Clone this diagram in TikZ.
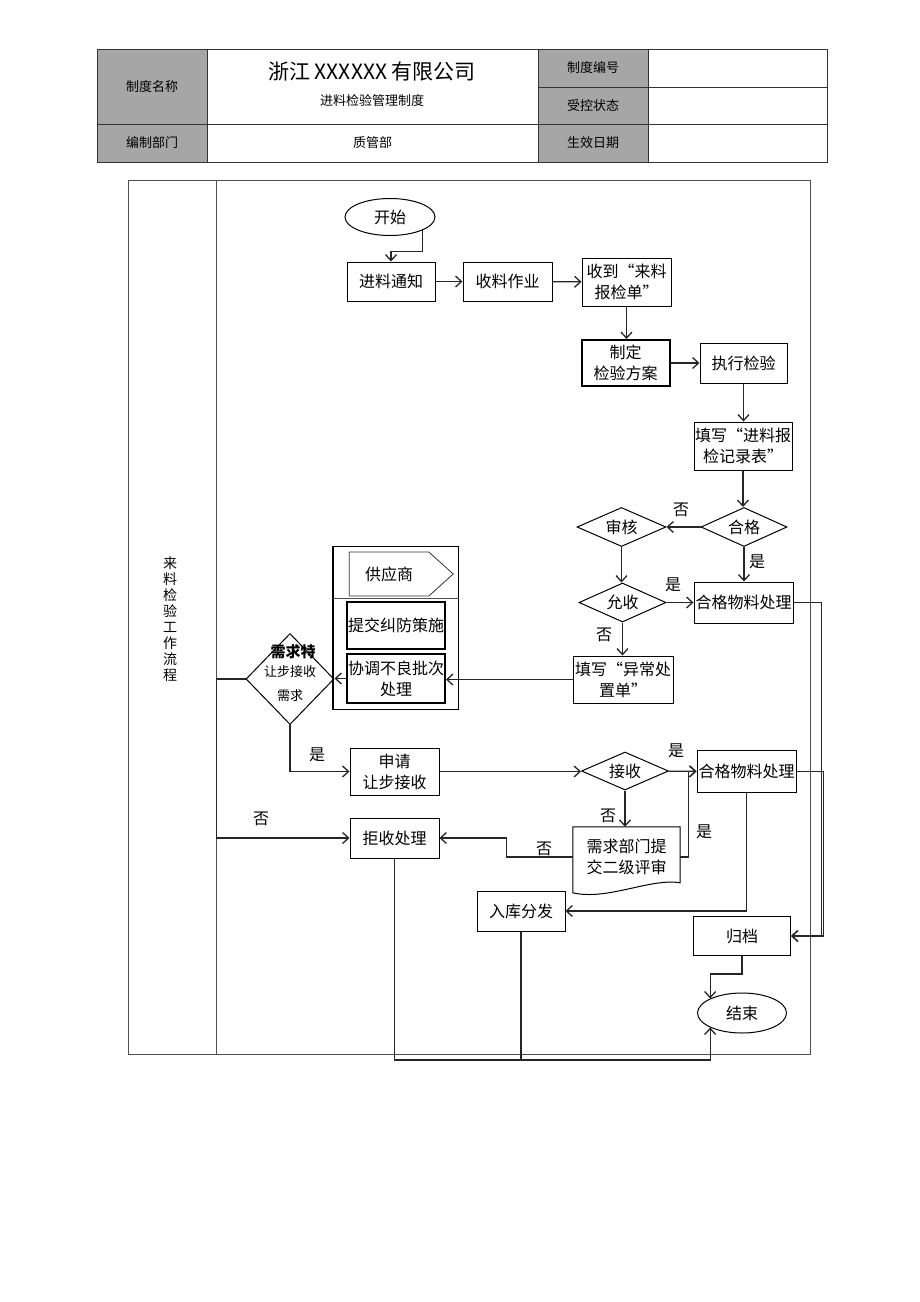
\documentclass[tikz,border=0pt]{standalone}
\usepackage{fontspec}
\newfontfamily\cjk{Noto Sans CJK SC}
\usetikzlibrary{shapes,arrows.meta,positioning,calc}
\definecolor{cellgray}{RGB}{166,166,166}
\definecolor{linegray}{RGB}{80,80,80}
\newcommand{\flowfont}{\cjk\fontsize{16}{21}\selectfont}
\newcommand{\headfont}{\cjk\fontsize{13}{15}\selectfont}
\tikzset{
    % Header cell styles
    keycell/.style={
        rectangle, draw=black!80, fill=cellgray, line width=0.8pt,
        font=\headfont, inner sep=0pt
    },
    valcell/.style={
        rectangle, draw=black!80, fill=white, line width=0.8pt,
        font=\headfont, inner sep=0pt
    },
    % Process box style
    procbox/.style={
        rectangle, draw=black, line width=1pt, fill=white,
        minimum width=88, minimum height=40,
        inner sep=1pt, align=center, font=\flowfont
    },
    % Decision style
    decision/.style={
        diamond, draw=black, line width=1pt, aspect=2.3,
        minimum width=88, minimum height=38,
        inner sep=0pt, font=\flowfont
    },
    % Start and end style
    terminal/.style={
        ellipse, draw=black, line width=1pt,
        minimum width=90, minimum height=38,
        inner sep=0pt, font=\flowfont
    },
    % Connector styles
    flow/.style={
        draw=black!85, line width=1.3pt,
        -{Straight Barb[length=6pt,width=11pt]}
    },
    plainline/.style={draw=black!85, line width=1.3pt},
    branch/.style={font=\flowfont, inner sep=0pt}
}

\begin{document}
\begin{tikzpicture}[x=1pt,y=-1pt]
\useasboundingbox (0,0) rectangle (920,1302);

% Header table
\node[keycell, minimum width=110, minimum height=75] (namekey) at (152,86.5) {制度名称};
\node[valcell, minimum width=331, minimum height=75] (nameval) at (372.5,86.5) {};
\node[font=\cjk\fontsize{21}{24}\selectfont] (company) at (372,72) {浙江 XXXXXX 有限公司};
\node[font=\headfont] (rulename) at (372,101) {进料检验管理制度};
\node[keycell, minimum width=110, minimum height=38] (codekey) at (593,68) {制度编号};
\node[valcell, minimum width=179, minimum height=38] (codeval) at (737.5,68) {};
\node[keycell, minimum width=110, minimum height=37] (statekey) at (593,105.5) {受控状态};
\node[valcell, minimum width=179, minimum height=37] (stateval) at (737.5,105.5) {};
\node[keycell, minimum width=110, minimum height=38] (deptkey) at (152,143) {编制部门};
\node[valcell, minimum width=331, minimum height=38] (deptval) at (372.5,143) {质管部};
\node[keycell, minimum width=110, minimum height=38] (datekey) at (593,143) {生效日期};
\node[valcell, minimum width=179, minimum height=38] (dateval) at (737.5,143) {};

% Swimlane frame
\node[draw=linegray, line width=0.8pt, minimum width=682, minimum height=874, inner sep=0pt] (lane) at (469,617) {};
\draw[draw=linegray, line width=0.8pt] ($(lane.north west)+(89,0)$) -- ($(lane.south west)+(89,0)$);
\node[font=\cjk\fontsize{14}{16}\selectfont, align=center] (lanename) at (170,619) {来\\料\\检\\验\\工\\作\\流\\程};

% Start and receiving
\node[terminal, minimum height=37] (start) at (390,217) {开始};
\node[procbox, minimum height=39] (notice) at (391,281.5) {进料通知};
\node[procbox, minimum width=89, minimum height=39] (receive) at (507.5,281.5) {收料作业};
\node[procbox, minimum width=89, minimum height=48] (report) at (626.5,282) {收到“来料\\报检单”};

% Inspection
\node[procbox, line width=2pt, minimum height=46] (plan) at (625.5,363) {制定\\检验方案};
\node[procbox, minimum width=87] (exec) at (743.5,363) {执行检验};
\node[procbox, minimum width=98, minimum height=48] (record) at (743,446) {填写“进料报\\检记录表”};
\node[decision, minimum width=86, minimum height=39] (qualified) at (744,527) {合格};
\node[decision, minimum width=89, minimum height=39] (audit) at (621.5,527) {审核};
\node[procbox, minimum width=99, minimum height=41] (okfirst) at (743.5,602.5) {合格物料处理};
\node[decision, minimum width=87, minimum height=39] (accept) at (622.5,602.5) {允收};
\node[procbox, minimum width=100, minimum height=47] (abnormal) at (623,679.5) {填写“异常处\\置单”};

% Supplier lane
\node[draw=black, line width=1pt, minimum width=125, minimum height=163, inner sep=0pt] (supplier) at (396,627.5) {};
\draw[line width=2.2pt] (supplier.north west) -- (supplier.south west);
\draw[line width=0.8pt, draw=linegray] ($(supplier.north west)+(0,53)$) -- ($(supplier.north east)+(0,53)$);
\node[signal, signal to=east, signal pointer angle=84, draw=black!80, line width=0.8pt, minimum width=104, minimum height=44, font=\flowfont] (vendor) at (389,574) {供应商};
\node[procbox, line width=2pt, minimum width=98, minimum height=47] (measure) at (396,625.5) {提交纠防策施};
\node[procbox, line width=2pt, minimum width=98, minimum height=49] (coord) at (396,678.5) {协调不良批次\\处理};

% Concession decision
\node[decision, minimum width=88, minimum height=91] (special) at (290,679) {};
\node[font=\cjk\fontsize{15}{17}\selectfont\bfseries] (specialtop) at (293,652) {需求特};
\node[font=\cjk\fontsize{13}{24}\selectfont, align=center] (specialtext) at (290,684) {让步接收\\需求};

% Concession and rejection
\node[procbox, minimum width=89, minimum height=47] (apply) at (394.5,771.5) {申请\\让步接收};
\node[decision, minimum width=87, minimum height=38] (recv) at (625,771) {接收};
\node[procbox, minimum width=99, minimum height=42] (oksecond) at (746.5,771.5) {合格物料处理};
\node[procbox, minimum width=89, minimum height=40] (reject) at (394.5,838) {拒收处理};
\node[align=center, font=\flowfont, minimum width=107, minimum height=60, inner sep=0pt] (review) at (626.5,857) {需求部门提\\交二级评审};
\draw[line width=1pt] (review.north west) -- (review.north east) -- ($(review.north east)+(0,56)$)
    .. controls ($(review.north east)+(-30,51)$) and ($(review.north west)+(35,74)$) .. ($(review.north west)+(0,66)$) -- cycle;
\node[procbox, minimum width=88, minimum height=40] (store) at (521,911) {入库分发};
\node[procbox, minimum width=97, minimum height=39] (archive) at (742,936) {归档};
\node[terminal, minimum width=89, minimum height=40] (finish) at (742,1013) {结束};

% Connectors
\draw[flow] (start.south east) -- ++(0,21) -| (notice.north);
\draw[flow] (notice) -- (receive);
\draw[flow] (receive) -- (report);
\draw[flow] (report.south) -- (report.south |- plan.north);
\draw[flow] (plan) -- (exec);
\draw[flow] (exec.south) -- (exec.south |- record.north);
\draw[flow] (record.south) -- (record.south |- qualified.north);
\draw[flow] (qualified) -- (audit);
\node[branch] (no1) at (681,510) {否};
\draw[flow] (qualified.south) -- (qualified.south |- okfirst.north);
\node[branch] (yes1) at (757,562) {是};
\draw[flow] (audit.south) -- (audit.south |- accept.north);
\draw[flow] (accept) -- (okfirst);
\node[branch] (yes2) at (673,585) {是};
\draw[flow] (accept.south) -- (accept.south |- abnormal.north);
\node[branch] (no2) at (604,635) {否};
\draw[flow] (abnormal.west) -- (abnormal.west -| coord.east);
\draw[flow] (coord.west) -- (coord.west -| special.east);
\draw[flow] (special.south) |- (apply.west);
\node[branch] (yes3) at (317,755) {是};
\draw[flow] (special.west) -- ++(-29,0) |- (reject.west);
\node[branch] (no3) at (261,819) {否};
\draw[flow] (apply.east) -- (apply.east -| recv.west);
\draw[flow] (recv) -- (oksecond);
\node[branch] (yes4) at (676,751) {是};
\draw[flow] (recv.south) -- (recv.south |- review.north);
\node[branch] (no4) at (608,816) {否};
\draw[flow] (review.west) -- ++(-66,0) |- (reject.east);
\node[branch] (no5) at (544,849) {否};
\draw[flow] (review.east) -- ++(8,0) |- (oksecond.west);
\node[branch] (yes5) at (704,832) {是};
\draw[flow] (oksecond.south) |- (store.east);
\draw[flow] (okfirst.east) -- ++(28,0) |- (archive.east);
\draw[flow] (oksecond.east) -- ++(27,0) |- (archive.east);
\draw[flow] (archive.south) -- ++(0,18) -| (finish.north west);
\coordinate (base) at (finish.south west |- 0,1060);
\draw[flow] (reject.south) |- (base) -- (finish.south west);
\draw[plainline] (store.south) -- (store.south |- base);

\end{tikzpicture}
\end{document}
